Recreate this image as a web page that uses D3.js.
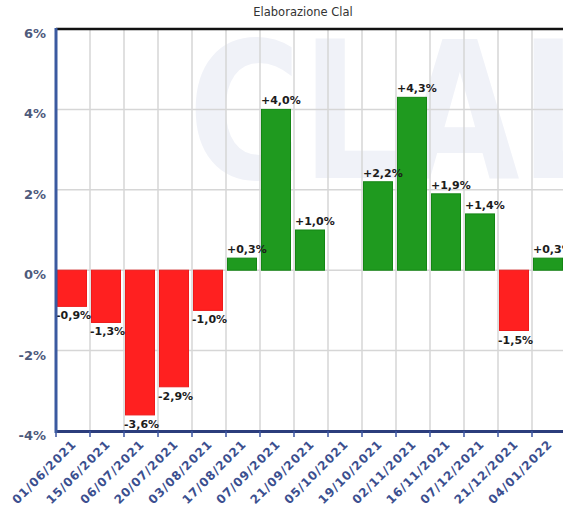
<!DOCTYPE html>
<html><head><meta charset="utf-8">
<script src="https://cdn.jsdelivr.net/npm/d3@7"></script>
<style>
html,body{margin:0;padding:0;background:#fff;}
svg{display:block;}
</style></head>
<body>
<svg id="chart" width="563" height="508"></svg>
<script>
const dates = ["01/06/2021","15/06/2021","06/07/2021","20/07/2021","03/08/2021","17/08/2021","07/09/2021","21/09/2021","05/10/2021","19/10/2021","02/11/2021","16/11/2021","07/12/2021","21/12/2021","04/01/2022"];
const values = [-0.9,-1.3,-3.6,-2.9,-1.0,0.3,4.0,1.0,null,2.2,4.3,1.9,1.4,-1.5,0.3];
const yTicks = [-4,-2,0,2,4,6];
const titleText = "Elaborazione Clal";
const watermarkText = "CLAL";

(function(){
const svg = d3.select("#chart");
const W = 563, H = 508;
const pLeft = 56, pTop = 29, pBottom = 431;
const step = 34;

const x = d3.scaleBand().domain(dates).range([pLeft, pLeft + step*dates.length]).padding(0);
const y = d3.scaleLinear().domain([-4, 6]).range([pBottom, pTop]);

svg.append("rect").attr("width", W).attr("height", H).attr("fill", "#fff");

// watermark
svg.append("text")
  .attr("x", 188).attr("y", 178)
  .attr("font-family", "DejaVu Sans")
  .attr("font-weight", "bold")
  .attr("font-size", 190)
  .attr("textLength", 430)
  .attr("lengthAdjust", "spacingAndGlyphs")
  .attr("fill", "#f0f2f8")
  .text(watermarkText);

// horizontal gridlines
svg.append("g").selectAll("line").data(yTicks.filter(d => d > -4 && d < 6)).join("line")
  .attr("x1", pLeft).attr("x2", W)
  .attr("y1", d => y(d)).attr("y2", d => y(d))
  .attr("stroke", "#d6d6d6").attr("stroke-width", 1.5);

// vertical gridlines at band boundaries
svg.append("g").selectAll("line").data(dates.slice(1)).join("line")
  .attr("x1", d => x(d)).attr("x2", d => x(d))
  .attr("y1", pTop).attr("y2", pBottom)
  .attr("stroke", "#d6d6d6").attr("stroke-width", 1.5);

// bars
const data = dates.map((d, i) => ({date: d, v: values[i]})).filter(d => d.v !== null);
svg.append("g").selectAll("rect").data(data).join("rect")
  .attr("x", d => x(d.date) + 1.5)
  .attr("width", x.bandwidth() - 5)
  .attr("y", d => Math.min(y(d.v), y(0)))
  .attr("height", d => Math.abs(y(d.v) - y(0)))
  .attr("fill", d => d.v >= 0 ? "#1f9a1f" : "#ff2020")
  .attr("stroke", d => d.v >= 0 ? "#148514" : "#ee1a1a")
  .attr("stroke-width", 1);

// value labels
const fmt = v => (v > 0 ? "+" : "") + v.toFixed(1).replace(".", ",") + "%";
svg.append("g").selectAll("text").data(data).join("text")
  .attr("x", d => x(d.date) + (d.v >= 0 ? 1 : 0))
  .attr("y", d => d.v >= 0 ? y(d.v) - 5 : y(d.v) + 13)
  .attr("font-family", "DejaVu Sans")
  .attr("font-weight", "bold")
  .attr("font-size", 11)
  .attr("fill", "#1c1c1c")
  .text(d => fmt(d.v));

// top border
svg.append("line").attr("x1", pLeft).attr("x2", W).attr("y1", pTop).attr("y2", pTop)
  .attr("stroke", "#111").attr("stroke-width", 2.5);

// bottom axis
svg.append("line").attr("x1", pLeft).attr("x2", W).attr("y1", pBottom + 0.5).attr("y2", pBottom + 0.5)
  .attr("stroke", "#2b3d7c").attr("stroke-width", 3);
svg.append("g").selectAll("line").data(dates).join("line")
  .attr("x1", d => x(d)).attr("x2", d => x(d))
  .attr("y1", pBottom).attr("y2", pBottom + 6)
  .attr("stroke", "#3b55a0").attr("stroke-width", 1.5);

// left axis
svg.append("line").attr("x1", pLeft).attr("x2", pLeft).attr("y1", pTop - 1).attr("y2", pBottom + 2)
  .attr("stroke", "#3b5aa0").attr("stroke-width", 3);

// y labels
svg.append("g").selectAll("text").data(yTicks).join("text")
  .attr("x", 46).attr("y", d => y(d) + 9)
  .attr("text-anchor", "end")
  .attr("font-family", "DejaVu Sans")
  .attr("font-weight", "bold")
  .attr("font-size", 13)
  .attr("fill", "#4e5a7c")
  .text(d => d + "%");

// x labels
svg.append("g").selectAll("text").data(dates).join("text")
  .attr("transform", d => `translate(${x(d) + x.bandwidth()/2 + 4},${pBottom + 14}) rotate(-45)`)
  .attr("text-anchor", "end")
  .attr("font-family", "DejaVu Sans")
  .attr("font-weight", "bold")
  .attr("font-size", 12)
  .attr("letter-spacing", 0.9)
  .attr("fill", "#3b4f8f")
  .text(d => d);

// title
svg.append("text")
  .attr("x", 303).attr("y", 16)
  .attr("text-anchor", "middle")
  .attr("font-family", "DejaVu Sans")
  .attr("font-size", 11.5)
  .attr("fill", "#333")
  .text(titleText);
})();
</script>
</body></html>
